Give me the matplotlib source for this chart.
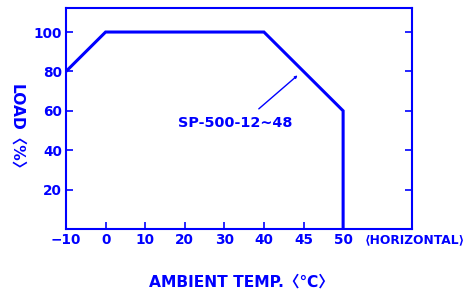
import matplotlib
matplotlib.use("Agg")
import matplotlib.pyplot as plt

# Data
x_tick_labels = ['\u221210', '0', '10', '20', '30', '40', '45', '50']
x_tick_values = [-10, 0, 10, 20, 30, 40, 45, 50]
y_ticks = [20, 40, 60, 80, 100]
curve_temp = [-10, 0, 40, 50, 50]
curve_load = [80, 100, 100, 60, 0]
model_label = 'SP-500-12~48'

BLUE = '#0000FF'
plt.rcParams['font.family'] = ['DejaVu Sans', 'Noto Sans CJK SC']
plt.rcParams['font.weight'] = 'bold'

fig = plt.figure(figsize=(4.7, 2.97), dpi=100)
ax = fig.add_axes([66/470, 1-229/297, (412-66)/470, (229-8)/297])

idx = {v: i for i, v in enumerate(x_tick_values)}
xs = [idx[t] for t in curve_temp]
ax.plot(xs, curve_load, color=BLUE, lw=2.2, solid_joinstyle='miter')

ax.set_xlim(0, 8.74)
ax.set_ylim(0, 112.2)
ax.set_xticks(range(len(x_tick_values)))
ax.set_xticklabels(x_tick_labels)
ax.set_yticks(y_ticks)
ax.tick_params(axis='both', direction='in', colors=BLUE, labelcolor=BLUE,
               labelsize=9.8, width=1.2, length=5, pad=3)
ax.tick_params(axis='y', right=True)
for lab in ax.get_xticklabels() + ax.get_yticklabels():
    lab.set_fontweight('bold')
for s in ax.spines.values():
    s.set_color(BLUE)
    s.set_linewidth(1.5)

# annotation
ax.annotate('', xy=(idx[45] - 0.15, 78), xytext=(idx[40] - 0.13, 61),
            arrowprops=dict(arrowstyle='-|>', color=BLUE, lw=1.0,
                            mutation_scale=3.5, shrinkA=0, shrinkB=0))
fig.text(235/470, 1-123/297, model_label, color=BLUE, fontsize=10.4,
         fontweight='bold', ha='center', va='center')

fig.text(415/470, 1-240/297, '\u27e8HORIZONTAL\u27e9', color=BLUE, fontsize=8.8,
         fontweight='bold', ha='center', va='center',
         family=['DejaVu Sans', 'Noto Sans CJK SC'])
fig.text(241/470, 1-282/297, 'AMBIENT TEMP.\u3008\u2103\u3009', color=BLUE,
         fontsize=11.2, fontweight='bold', ha='center', va='center',
         family=['DejaVu Sans', 'Noto Sans CJK SC'])
fig.text(17/470, 1-131/297, 'LOAD\u3008%\u3009', color=BLUE, fontsize=11.2,
         fontweight='bold', ha='center', va='center', rotation=-90,
         family=['DejaVu Sans', 'Noto Sans CJK SC'])

fig.savefig('out.png', dpi=100)
